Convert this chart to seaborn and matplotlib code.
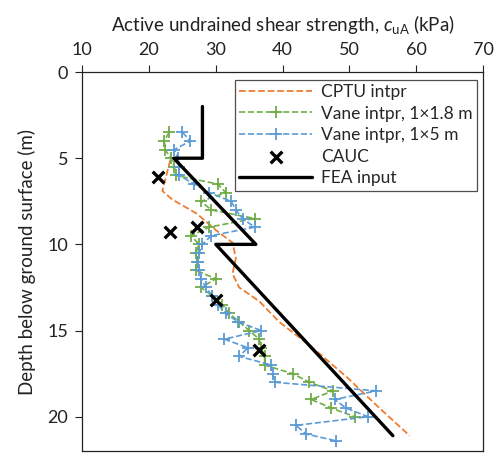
import numpy as np
import pandas as pd
import matplotlib
matplotlib.use("Agg")
import matplotlib.pyplot as plt
import seaborn as sns

# CPTU interpretation
cptu_su = [23.2, 22.0, 23.5, 27.1, 30.1, 32.5, 33.0, 32.5, 33.5, 36.5, 39.5, 44.5, 49.6, 54.5, 59.0]
cptu_depth = [5.1, 6.9, 7.4, 8.2, 9.2, 9.9, 10.8, 11.7, 12.5, 13.3, 14.5, 16.0, 17.7, 19.5, 21.1]

# vane 1x1.8 m
vane18_depth = [3.5, 4.0, 4.5, 5.0, 5.5, 6.0, 6.5, 7.0, 7.5, 8.0, 8.5, 9.0, 9.5, 10.0, 10.5,
                11.0, 11.5, 12.0, 12.5, 13.0, 13.5, 14.0, 14.5, 15.0, 15.5, 16.0, 16.5, 17.0,
                17.5, 18.0, 18.5, 19.0, 19.5, 20.0]
vane18_su = [23.0, 22.3, 22.4, 23.3, 23.8, 24.0, 30.3, 31.5, 27.8, 29.3, 35.8, 29.0, 26.3, 27.5, 27.0,
             27.2, 27.0, 30.0, 27.8, 29.5, 31.0, 32.0, 33.5, 35.0, 36.5, 36.8, 37.3, 37.3,
             41.5, 44.0, 47.5, 44.3, 47.3, 50.8]

# vane 1x5 m
vane5_depth = [3.5, 4.0, 4.5, 5.0, 5.5, 6.0, 6.5, 7.0, 7.5, 8.0, 8.5, 9.0, 9.5, 10.0, 10.5,
               11.0, 11.5, 12.0, 12.5, 13.0, 13.5, 14.0, 14.5, 15.0, 15.5, 16.0, 16.5, 17.0,
               17.5, 18.0, 18.5, 19.0, 19.5, 20.0, 20.5, 21.0, 21.4]
vane5_su = [25.0, 26.2, 23.8, 24.3, 24.5, 24.5, 26.8, 29.0, 32.3, 33.0, 34.0, 35.8, 29.3, 28.0, 27.5,
            27.3, 27.5, 27.8, 28.5, 29.5, 30.3, 31.5, 33.3, 36.8, 31.3, 34.8, 33.5, 38.3,
            38.5, 38.8, 54.0, 47.8, 49.5, 52.8, 42.0, 43.5, 48.0]

# CAUC tests
cauc_su = [21.4, 27.2, 23.2, 30.0, 36.4]
cauc_depth = [6.1, 9.0, 9.3, 13.2, 16.1]

# FEA input profile
fea_su = [28.0, 28.0, 23.7, 36.0, 30.0, 56.5]
fea_depth = [2.0, 5.0, 5.0, 10.0, 10.0, 21.1]

sns.set_style("ticks")
plt.rcParams['font.family'] = ['Lato', 'DejaVu Sans']
plt.rcParams['mathtext.fontset'] = 'custom'
plt.rcParams['mathtext.it'] = 'Lato:italic'
plt.rcParams['mathtext.rm'] = 'Lato'

fig = plt.figure(figsize=(4.98, 4.53), dpi=100)
ax = fig.add_axes([0.165, 0.004, 0.805, 0.837])

vane_kw = dict(sort=False, estimator=None, ax=ax, linestyle='--', linewidth=1.2,
               marker='+', markersize=9, markeredgewidth=1.3)

sns.lineplot(x=cptu_su, y=cptu_depth, sort=False, estimator=None, ax=ax,
             color='#ED7D31', linestyle='--', linewidth=1.3, label='CPTU intpr')
sns.lineplot(x=vane18_su, y=vane18_depth, color='#70AD47', markeredgecolor='#70AD47',
             label='Vane intpr, 1\u00d71.8 m', **vane_kw)
sns.lineplot(x=vane5_su, y=vane5_depth, color='#5B9BD5', markeredgecolor='#5B9BD5',
             label='Vane intpr, 1\u00d75 m', **vane_kw)
sns.scatterplot(x=cauc_su, y=cauc_depth, ax=ax, marker='x', s=70, color='black',
                linewidth=2.4, label='CAUC', zorder=5)
sns.lineplot(x=fea_su, y=fea_depth, sort=False, estimator=None, ax=ax,
             color='black', linewidth=2.4, label='FEA input')

ax.set_xlim(10, 70)
ax.set_ylim(22, 0)
ax.set_xticks([10, 20, 30, 40, 50, 60, 70])
ax.set_yticks([0, 5, 10, 15, 20])
ax.xaxis.tick_top()
ax.xaxis.set_label_position('top')
ax.tick_params(axis='x', which='both', top=True, bottom=False, direction='out',
               length=5, labelsize=13, colors='#222222', pad=5)
ax.tick_params(axis='y', direction='out', length=5, labelsize=13, colors='#222222', pad=5)
for sp in ax.spines.values():
    sp.set_visible(True)
    sp.set_linewidth(0.9)
    sp.set_color('#222222')

ax.set_xlabel(r'Active undrained shear strength, $c_{\mathrm{uA}}$ (kPa)', fontsize=13.5,
              labelpad=8, color='#222222')
ax.set_ylabel('Depth below ground surface (m)', fontsize=13.5, color='#222222', labelpad=8)

leg = ax.legend(loc='upper right', fontsize=12.5, frameon=True, fancybox=False,
                edgecolor='#222222', handlelength=4.2, borderpad=0.25, labelspacing=0.32,
                handletextpad=0.5, borderaxespad=0.0, bbox_to_anchor=(0.985, 0.98))
leg.get_frame().set_linewidth(0.9)

fig.savefig('out.png', dpi=100)
